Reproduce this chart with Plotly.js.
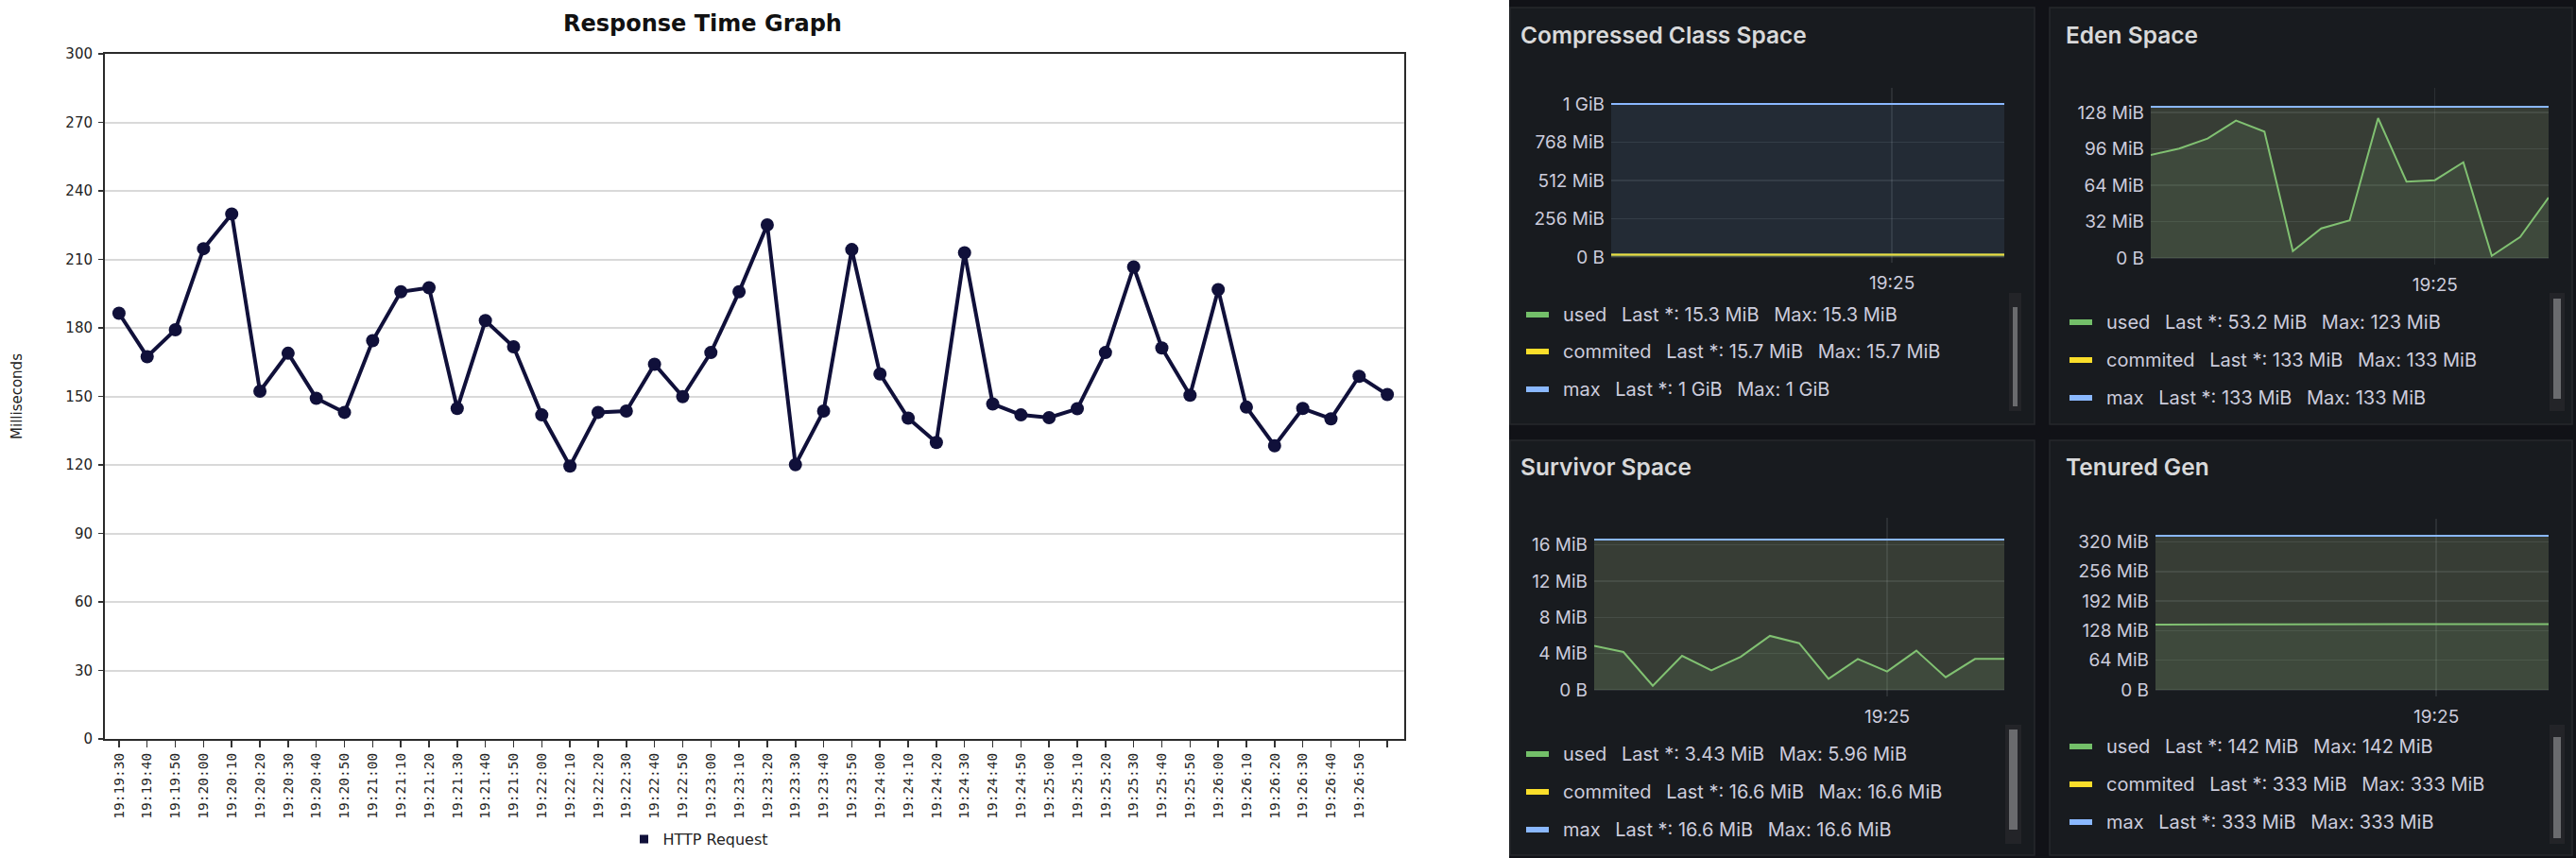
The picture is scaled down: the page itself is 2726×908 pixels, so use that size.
<!DOCTYPE html>
<html>
<head>
<meta charset="utf-8">
<script src="https://cdn.plot.ly/plotly-3.0.1.min.js"></script>
<style>html,body{margin:0;padding:0;background:#fff;}#chart{width:2726px;height:908px;}</style>
</head>
<body>
<div id="chart"></div>
<script>
// ---------------- DATA ----------------
const times = ['19:19:30','19:19:40','19:19:50','19:20:00','19:20:10','19:20:20','19:20:30','19:20:40','19:20:50',
  '19:21:00','19:21:10','19:21:20','19:21:30','19:21:40','19:21:50','19:22:00','19:22:10','19:22:20','19:22:30',
  '19:22:40','19:22:50','19:23:00','19:23:10','19:23:20','19:23:30','19:23:40','19:23:50','19:24:00','19:24:10',
  '19:24:20','19:24:30','19:24:40','19:24:50','19:25:00','19:25:10','19:25:20','19:25:30','19:25:40','19:25:50',
  '19:26:00','19:26:10','19:26:20','19:26:30','19:26:40','19:26:50','19:27:00'];
const timeTickLabels = ['19:19:30','19:19:40','19:19:50','19:20:00','19:20:10','19:20:20','19:20:30','19:20:40','19:20:50',
  '19:21:00','19:21:10','19:21:20','19:21:30','19:21:40','19:21:50','19:22:00','19:22:10','19:22:20','19:22:30',
  '19:22:40','19:22:50','19:23:00','19:23:10','19:23:20','19:23:30','19:23:40','19:23:50','19:24:00','19:24:10',
  '19:24:20','19:24:30','19:24:40','19:24:50','19:25:00','19:25:10','19:25:20','19:25:30','19:25:40','19:25:50',
  '19:26:00','19:26:10','19:26:20','19:26:30','19:26:40','19:26:50',''];
const responseMs = [186.4,167.4,179.2,214.7,229.9,152.3,168.9,149.2,143.0,174.4,195.8,197.6,144.7,183.2,171.7,141.9,
  119.5,143.0,143.6,164.1,149.9,169.2,195.8,225.1,120.1,143.6,214.3,159.8,140.5,129.8,212.9,146.7,141.9,140.7,144.6,
  169.2,206.7,171.2,150.5,196.8,145.3,128.4,144.7,140.2,158.8,150.8];
const msTicks = [0,30,60,90,120,150,180,210,240,270,300];

const gTimes = ['19:20:00','19:20:30','19:21:00','19:21:30','19:22:00','19:22:30','19:23:00','19:23:30',
  '19:24:00','19:24:30','19:25:00','19:25:30','19:26:00','19:26:30','19:27:00'];
const gTickVals = ['19:25:00'];
const gTickText = ['19:25'];

// values in MiB
const compressedUsed = [15.3,15.3,15.3,15.3,15.3,15.3,15.3,15.3,15.3,15.3,15.3,15.3,15.3,15.3,15.3];
const compressedCommitted = [15.7,15.7,15.7,15.7,15.7,15.7,15.7,15.7,15.7,15.7,15.7,15.7,15.7,15.7,15.7];
const compressedMax = [1024,1024,1024,1024,1024,1024,1024,1024,1024,1024,1024,1024,1024,1024,1024];
const compressedTicks = [0,256,512,768,1024];
const compressedTickText = ['0 B','256 MiB','512 MiB','768 MiB','1 GiB'];

const edenUsed = [90.6,96.2,105.0,120.8,111.1,6.1,26.0,33.0,123.0,67.1,68.4,84.2,1.9,18.5,53.2];
const edenCommitted = [133,133,133,133,133,133,133,133,133,133,133,133,133,133,133];
const edenMax = [133,133,133,133,133,133,133,133,133,133,133,133,133,133,133];
const edenTicks = [0,32,64,96,128];
const edenTickText = ['0 B','32 MiB','64 MiB','96 MiB','128 MiB'];

const survivorUsed = [4.87,4.18,0.45,3.76,2.16,3.65,5.96,5.15,1.22,3.41,2.02,4.32,1.39,3.41,3.43];
const survivorCommitted = [16.6,16.6,16.6,16.6,16.6,16.6,16.6,16.6,16.6,16.6,16.6,16.6,16.6,16.6,16.6];
const survivorMax = [16.6,16.6,16.6,16.6,16.6,16.6,16.6,16.6,16.6,16.6,16.6,16.6,16.6,16.6,16.6];
const survivorTicks = [0,4,8,12,16];
const survivorTickText = ['0 B','4 MiB','8 MiB','12 MiB','16 MiB'];

const tenuredUsed = [141.0,141.6,141.7,141.7,141.8,141.8,141.8,141.9,141.9,141.9,141.9,142.0,142.0,142.0,142.0];
const tenuredCommitted = [333,333,333,333,333,333,333,333,333,333,333,333,333,333,333];
const tenuredMax = [333,333,333,333,333,333,333,333,333,333,333,333,333,333,333];
const tenuredTicks = [0,64,128,192,256,320];
const tenuredTickText = ['0 B','64 MiB','128 MiB','192 MiB','256 MiB','320 MiB'];

const panelTitles = ['Compressed Class Space','Eden Space','Survivor Space','Tenured Gen'];
const seriesNames = ['used','commited','max'];
const compressedLegend = ['used\u2002 Last *: 15.3 MiB\u2002 Max: 15.3 MiB','commited\u2002 Last *: 15.7 MiB\u2002 Max: 15.7 MiB','max\u2002 Last *: 1 GiB\u2002 Max: 1 GiB'];
const edenLegend = ['used\u2002 Last *: 53.2 MiB\u2002 Max: 123 MiB','commited\u2002 Last *: 133 MiB\u2002 Max: 133 MiB','max\u2002 Last *: 133 MiB\u2002 Max: 133 MiB'];
const survivorLegend = ['used\u2002 Last *: 3.43 MiB\u2002 Max: 5.96 MiB','commited\u2002 Last *: 16.6 MiB\u2002 Max: 16.6 MiB','max\u2002 Last *: 16.6 MiB\u2002 Max: 16.6 MiB'];
const tenuredLegend = ['used\u2002 Last *: 142 MiB\u2002 Max: 142 MiB','commited\u2002 Last *: 333 MiB\u2002 Max: 333 MiB','max\u2002 Last *: 333 MiB\u2002 Max: 333 MiB'];

// ---------------- STYLE / LAYOUT ----------------
const W = 2726, H = 908;
const PX = p => p / W;
const PY = p => 1 - p / H;
const NAVY = '#10103a';
const gColors = ['#73bf69', '#fade2a', '#8ab8ff'];
const gFill = ['rgba(115,191,105,0.10)', 'rgba(250,222,42,0.10)', 'rgba(138,184,255,0.10)'];
const gText = '#ccccdc';
const gFont = 'Inter, "Noto Sans", sans-serif';

const traces = [];
traces.push({
  x: times, y: responseMs, type: 'scatter', mode: 'lines+markers',
  line: {color: NAVY, width: 4}, marker: {color: NAVY, size: 14},
  xaxis: 'x', yaxis: 'y', showlegend: false, hoverinfo: 'x+y'
});
traces.push({
  x: [null], y: [null], type: 'scatter', mode: 'markers', name: 'HTTP Request',
  marker: {color: NAVY, size: 9, symbol: 'square'}, xaxis: 'x', yaxis: 'y', showlegend: true
});

const panels = [
  {ax: 2, series: [compressedUsed, compressedCommitted, compressedMax], ticks: compressedTicks, tt: compressedTickText,
   px: [1705, 2121], py: [93, 278], range: [-38, 1131], legend: compressedLegend,
   box: [1598, 8, 2153, 449], titleX: 1607, titleY: 37, legX: 1615, legRows: [333, 372, 412], sb: [2126, 310, 2139, 435], thumb: [325, 430]},
  {ax: 3, series: [edenUsed, edenCommitted, edenMax], ticks: edenTicks, tt: edenTickText,
   px: [2276, 2697], py: [93, 280], range: [-5.8, 149.6], legend: edenLegend,
   box: [2169, 8, 2722, 449], titleX: 2184, titleY: 37, legX: 2190, legRows: [341, 381, 421], sb: [2698, 310, 2714, 435], thumb: [316, 422]},
  {ax: 4, series: [survivorUsed, survivorCommitted, survivorMax], ticks: survivorTicks, tt: survivorTickText,
   px: [1687, 2121], py: [548, 737], range: [-0.73, 19.0], legend: survivorLegend,
   box: [1598, 466, 2153, 905], titleX: 1607, titleY: 494, legX: 1615, legRows: [798, 838, 878], sb: [2122, 767, 2139, 893], thumb: [772, 878]},
  {ax: 5, series: [tenuredUsed, tenuredCommitted, tenuredMax], ticks: tenuredTicks, tt: tenuredTickText,
   px: [2281, 2697], py: [549, 737], range: [-14.3, 370], legend: tenuredLegend,
   box: [2169, 466, 2722, 905], titleX: 2184, titleY: 494, legX: 2190, legRows: [790, 830, 870], sb: [2698, 767, 2714, 893], thumb: [780, 887]}
];

const layout = {
  width: W, height: H,
  margin: {l: 0, r: 0, t: 0, b: 0, pad: 0},
  paper_bgcolor: '#ffffff', plot_bgcolor: 'rgba(0,0,0,0)',
  showlegend: true,
  legend: {orientation: 'h', x: PX(740), y: PY(888), xanchor: 'center', yanchor: 'middle',
    font: {family: '"DejaVu Sans", sans-serif', size: 16, color: '#222'}, bgcolor: 'rgba(0,0,0,0)'},
  annotations: [
    {text: '<b>Response Time Graph</b>', x: PX(743), y: PY(25), xref: 'paper', yref: 'paper', showarrow: false,
     xanchor: 'center', yanchor: 'middle', font: {family: '"DejaVu Sans", sans-serif', size: 24, color: '#111'}}
  ],
  shapes: [],
  xaxis: {
    domain: [PX(111), PX(1486)], anchor: 'y', type: 'category', range: [-0.5, 45.6],
    tickvals: times, ticktext: timeTickLabels, tickangle: -90,
    tickfont: {family: '"DejaVu Sans Mono", monospace', size: 14.5, color: '#222'},
    ticks: 'outside', ticklen: 7, tickwidth: 1.5, tickcolor: '#333',
    showline: true, linecolor: '#2a2a2a', linewidth: 2, mirror: true, showgrid: false, zeroline: false
  },
  yaxis: {
    domain: [PY(782), PY(57)], anchor: 'x', range: [0, 300], tickvals: msTicks,
    tickfont: {family: '"DejaVu Sans", sans-serif', size: 15, color: '#222'},
    ticks: 'outside', ticklen: 5, tickwidth: 1.5, tickcolor: '#333', ticklabelstandoff: 3,
    showline: true, linecolor: '#2a2a2a', linewidth: 2, mirror: true,
    showgrid: true, gridcolor: '#d9d9d9', gridwidth: 2, zeroline: false,
    title: {text: 'Milliseconds', standoff: 42, font: {family: '"DejaVu Sans", sans-serif', size: 15, color: '#222'}}
  }
};

// dashboard background
layout.shapes.push({type: 'rect', xref: 'paper', yref: 'paper', x0: PX(1597), x1: 1, y0: 0, y1: 1,
  fillcolor: '#111217', line: {width: 0}, layer: 'below'});

panels.forEach((p, i) => {
  const xa = 'xaxis' + p.ax, ya = 'yaxis' + p.ax;
  const xr = 'x' + p.ax, yr = 'y' + p.ax;
  layout.shapes.push({type: 'rect', xref: 'paper', yref: 'paper',
    x0: PX(p.box[0]), x1: PX(p.box[2]), y0: PY(p.box[3]), y1: PY(p.box[1]),
    fillcolor: '#181b1f', line: {color: '#26282d', width: 1.5}, layer: 'below'});
  layout.shapes.push({type: 'rect', xref: 'paper', yref: 'paper',
    x0: PX(p.sb[0]), x1: PX(p.sb[2]), y0: PY(p.sb[3]), y1: PY(p.sb[1]),
    fillcolor: '#232428', line: {width: 0}, layer: 'below'});
  layout.shapes.push({type: 'rect', xref: 'paper', yref: 'paper',
    x0: PX(p.sb[0] + 4), x1: PX(p.sb[2] - 4), y0: PY(p.thumb[1]), y1: PY(p.thumb[0]),
    fillcolor: '#6a6b6e', line: {width: 0}, layer: 'below'});
  layout.annotations.push({text: panelTitles[i], x: PX(p.titleX), y: PY(p.titleY), xref: 'paper', yref: 'paper',
    showarrow: false, xanchor: 'left', yanchor: 'middle',
    font: {family: gFont, size: 24.5, color: '#d8d9da', weight: 600}});
  p.legend.forEach((txt, k) => {
    layout.shapes.push({type: 'rect', xref: 'paper', yref: 'paper',
      x0: PX(p.legX), x1: PX(p.legX + 24), y0: PY(p.legRows[k] + 3), y1: PY(p.legRows[k] - 3),
      fillcolor: gColors[k], line: {width: 0}, layer: 'above'});
    layout.annotations.push({text: txt, x: PX(p.legX + 37), y: PY(p.legRows[k]), xref: 'paper', yref: 'paper',
      showarrow: false, xanchor: 'left', yanchor: 'middle', font: {family: gFont, size: 20, color: gText}});
  });
  layout[xa] = {domain: [PX(p.px[0]), PX(p.px[1])], anchor: yr, type: 'category', range: [0, 14],
    tickvals: gTickVals, ticktext: gTickText, ticks: '', showline: false, zeroline: false,
    showgrid: true, gridcolor: 'rgba(240,250,255,0.09)', gridwidth: 1.5, ticklabelstandoff: 8,
    tickfont: {family: gFont, size: 19, color: gText}};
  layout[ya] = {domain: [PY(p.py[1]), PY(p.py[0])], anchor: xr, range: p.range,
    tickvals: p.ticks, ticktext: p.tt, ticks: '', showline: false, zeroline: false,
    showgrid: true, gridcolor: 'rgba(240,250,255,0.09)', gridwidth: 1.5, ticklabelstandoff: 6,
    tickfont: {family: gFont, size: 19, color: gText}};
  p.series.forEach((vals, k) => {
    traces.push({x: gTimes, y: vals, type: 'scatter', mode: 'lines', name: seriesNames[k],
      xaxis: xr, yaxis: yr, line: {color: gColors[k], width: 2}, fill: 'tozeroy', fillcolor: gFill[k],
      showlegend: false});
  });
});

Plotly.newPlot('chart', traces, layout, {displayModeBar: false, staticPlot: true});
</script>
</body>
</html>
